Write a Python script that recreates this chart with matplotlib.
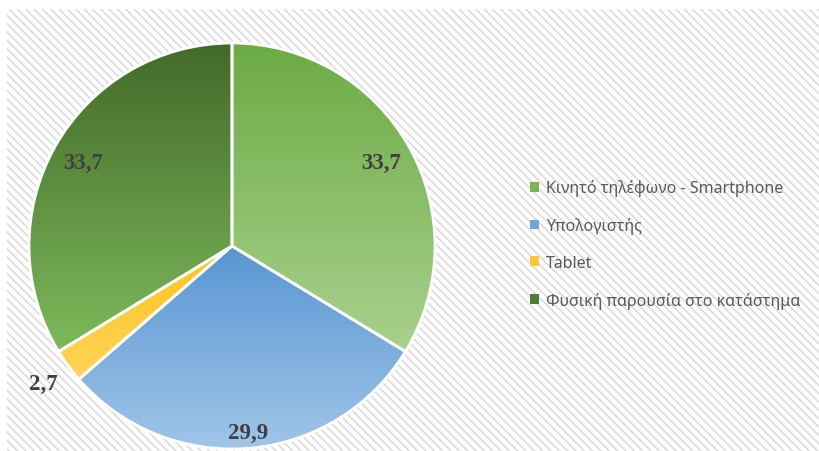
import numpy as np
import matplotlib
matplotlib.use('Agg')
import matplotlib.pyplot as plt
from matplotlib.colors import LinearSegmentedColormap
from matplotlib.patches import Rectangle, Patch

categories = ['Κινητό τηλέφωνο - Smartphone', 'Υπολογιστής', 'Tablet',
              'Φυσική παρουσία στο κατάστημα']
values = [33.7, 29.9, 2.7, 33.7]

# top / bottom gradient colours of each slice
top_colors = ['#6cab44', '#5896d3', '#ffc21f', '#436a29']
bottom_colors = ['#a9d18e', '#a0c5e8', '#ffd55a', '#7db95b']
legend_colors = ['#7ab552', '#6fa5da', '#ffc63b', '#4f7d33']
label_radius = [0.84, 0.92, 1.15, 0.84]

W, H = 819, 452
fig = plt.figure(figsize=(W / 100, H / 100), dpi=100)
fig.patch.set_facecolor('white')

# hatched chart area
plt.rcParams['hatch.linewidth'] = 1.0
bg = Rectangle((7 / W, 0), 1, 1 - 10 / H, transform=fig.transFigure,
               facecolor='white', edgecolor='#d6d6d6', hatch='\\\\\\\\',
               linewidth=0, zorder=0)
fig.add_artist(bg)

cx, cy, r = 232, 452 - 247, 203
ax = fig.add_axes([(cx - r) / W, (cy - r) / H, 2 * r / W, 2 * r / H])
ax.set_axis_off()

wedges, _ = ax.pie(values, startangle=90, counterclock=False, radius=1,
                   colors=legend_colors,
                   wedgeprops=dict(edgecolor='white', linewidth=2))

# vertical gradient over each slice's own bounding box
grad = np.linspace(0, 1, 256).reshape(-1, 1)
for w, c0, c1 in zip(wedges, top_colors, bottom_colors):
    b = w.get_path().get_extents()
    cmap = LinearSegmentedColormap.from_list('g', [c0, c1])
    im = ax.imshow(grad, cmap=cmap, extent=(b.x0, b.x1, b.y0, b.y1),
                   origin='upper', aspect='auto', zorder=1)
    im.set_clip_path(w)
    w.set_facecolor('none')
    w.set_zorder(2)

# data labels
for w, v, rr in zip(wedges, values, label_radius):
    ang = np.deg2rad((w.theta1 + w.theta2) / 2)
    ax.text(rr * np.cos(ang), rr * np.sin(ang), f'{v:.1f}'.replace('.', ','),
            ha='center', va='center', fontsize=16.5, fontweight='bold',
            family='Liberation Serif', color='#404040', zorder=5, clip_on=False)

ax.set_xlim(-1, 1)
ax.set_ylim(-1, 1)

handles = [Patch(facecolor=c, edgecolor='none') for c in legend_colors]
fig.legend(handles, categories, loc='center left',
           bbox_to_anchor=(516 / W, 1 - 245 / H), frameon=False,
           handlelength=0.55, handleheight=0.55, handletextpad=0.45,
           labelspacing=1.3, prop=dict(family='Noto Sans', size=11.5),
           labelcolor='#595959')

fig.savefig('out.png', dpi=100)
